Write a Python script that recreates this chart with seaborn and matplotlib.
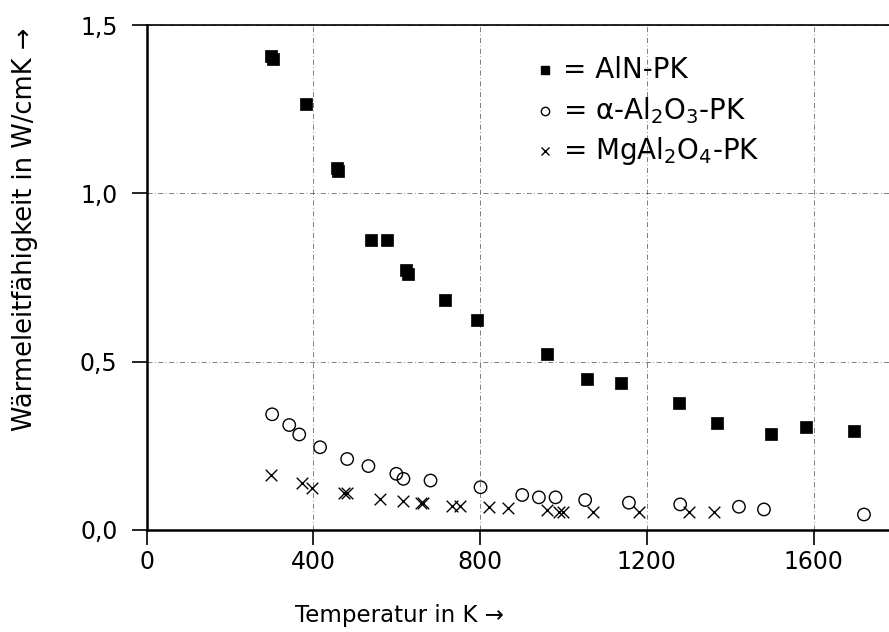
import matplotlib
matplotlib.use("Agg")
import matplotlib.pyplot as plt
import seaborn as sns
import pandas as pd

# AlN-PK
aln_T = [298, 302, 382, 456, 458, 538, 576, 622, 626, 716, 792, 960, 1057, 1139, 1276, 1368, 1498, 1582, 1698]
aln_k = [1.41, 1.40, 1.265, 1.075, 1.068, 0.862, 0.862, 0.772, 0.760, 0.683, 0.624, 0.522, 0.449, 0.437, 0.377, 0.317, 0.285, 0.304, 0.294]

# alpha-Al2O3-PK
al2o3_T = [301, 342, 366, 416, 481, 532, 599, 616, 681, 801, 901, 941, 981, 1052, 1157, 1280, 1421, 1481, 1721]
al2o3_k = [0.343, 0.311, 0.283, 0.245, 0.210, 0.189, 0.166, 0.151, 0.146, 0.126, 0.103, 0.096, 0.096, 0.088, 0.080, 0.075, 0.068, 0.060, 0.045]

# MgAl2O4-PK
mg_T = [298, 372, 397, 473, 481, 560, 616, 657, 663, 733, 752, 821, 866, 961, 990, 1000, 1072, 1181, 1300, 1360]
mg_k = [0.163, 0.138, 0.125, 0.110, 0.110, 0.092, 0.084, 0.080, 0.080, 0.070, 0.070, 0.067, 0.064, 0.058, 0.052, 0.051, 0.053, 0.051, 0.051, 0.051]

df = pd.concat([
    pd.DataFrame({"T": aln_T, "k": aln_k, "probe": "AlN"}),
    pd.DataFrame({"T": al2o3_T, "k": al2o3_k, "probe": "Al2O3"}),
    pd.DataFrame({"T": mg_T, "k": mg_k, "probe": "MgAl2O4"}),
])

sns.set_style("white")
plt.rcParams["font.family"] = ["DejaVu Sans"]
plt.rcParams["mathtext.fontset"] = "dejavusans"
plt.rcParams["text.color"] = "black"
plt.rcParams["axes.labelcolor"] = "black"
plt.rcParams["xtick.color"] = "black"
plt.rcParams["ytick.color"] = "black"

fig = plt.figure(figsize=(8.89, 6.32), dpi=100)
ax = fig.add_axes([0.165, 0.162, 0.835, 0.798])

sns.scatterplot(data=df[df.probe == "AlN"], x="T", y="k", marker="s", s=75,
                color="black", edgecolor="black", linewidth=0.5, ax=ax, zorder=3)
sns.scatterplot(data=df[df.probe == "Al2O3"], x="T", y="k", marker="o", s=80,
                facecolor="none", edgecolor="black", linewidth=1.0, ax=ax, zorder=3)
sns.scatterplot(data=df[df.probe == "MgAl2O4"], x="T", y="k", marker="x", s=70,
                color="black", linewidth=1.0, ax=ax, zorder=3)

ax.set_xlim(0, 1781)
ax.set_ylim(0, 1.5)
ax.set_xticks([0, 400, 800, 1200, 1600])
ax.set_yticks([0.0, 0.5, 1.0, 1.5])
ax.set_yticklabels(["0,0", "0,5", "1,0", "1,5"])
ax.grid(True, color="#444444", linestyle=(0, (6, 3, 1, 3)), linewidth=0.6, alpha=0.8)

ax.spines["right"].set_visible(False)
for side in ["left", "bottom", "top"]:
    ax.spines[side].set_color("black")
ax.spines["left"].set_linewidth(1.8)
ax.spines["bottom"].set_linewidth(1.8)
ax.spines["top"].set_linewidth(1.2)
ax.tick_params(axis="both", direction="out", length=11, width=1.2, labelsize=17,
               bottom=True, left=True)
ax.tick_params(axis="y", pad=10)

ax.set_xlabel("Temperatur in K →", fontsize=16.5)
ax.set_ylabel("Wärmeleitfähigkeit in W/cmK →", fontsize=18.5)
ax.xaxis.set_label_coords(0.34, -0.148)
ax.yaxis.set_label_coords(-0.146, 0.595)

# legend written as text like the original
ax.plot(956, 1.366, marker="s", color="black", markersize=6)
ax.plot(956, 1.245, marker="o", markerfacecolor="none", markeredgecolor="black", markersize=6)
ax.plot(956, 1.127, marker="x", color="black", markersize=6)
ax.text(1000, 1.366, "= AlN-PK", fontsize=20, va="center")
ax.text(1000, 1.245, r"= α-Al$_2$O$_3$-PK", fontsize=20, va="center")
ax.text(1000, 1.127, r"= MgAl$_2$O$_4$-PK", fontsize=20, va="center")

fig.savefig("out.png", dpi=100)
